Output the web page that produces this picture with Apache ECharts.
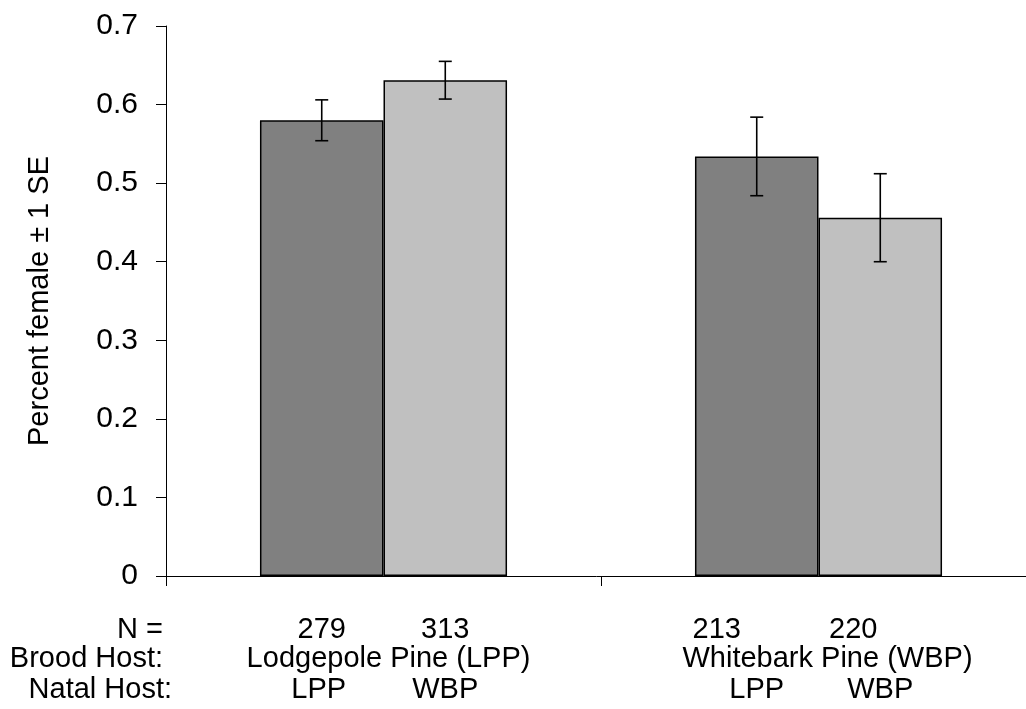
<!DOCTYPE html>
<html><head><meta charset="utf-8">
<script src="https://cdn.jsdelivr.net/npm/echarts@6/dist/echarts.min.js"></script>
<style>html,body{margin:0;padding:0;background:#fff}#c{width:1026px;height:709px}</style>
</head><body><div id="c"></div>
<script>
// ---- data ----
const broodHosts = ['Lodgepole Pine (LPP)', 'Whitebark Pine (WBP)'];
const natalHosts = ['LPP', 'WBP'];
const pctLPP = [0.580, 0.534];
const pctWBP = [0.631, 0.456];
const seLPP = [0.026, 0.050];
const seWBP = [0.024, 0.056];
const nLPP = [279, 213];
const nWBP = [313, 220];

// ---- style ----
const FONT = '"Liberation Sans", Arial, sans-serif';
const GAP = 0.432;
const colLPP = '#808080', colWBP = '#C0C0C0';

function errRender(sign) {
  return function (params, api) {
    const ci = api.value(0), v = api.value(1), se = api.value(2);
    const c = api.coord([ci, v]);
    const band = api.size([1, 0])[0];
    const bw = band * (1 - GAP) / 2;
    const x = c[0] + sign * bw / 2;
    const yt = api.coord([ci, v + se])[1], yb = api.coord([ci, v - se])[1];
    const cap = 6.5;
    const st = { stroke: '#000', lineWidth: 1.6 };
    return { type: 'group', children: [
      { type: 'line', shape: { x1: x, y1: yt, x2: x, y2: yb }, style: st },
      { type: 'line', shape: { x1: x - cap, y1: yt, x2: x + cap, y2: yt }, style: st },
      { type: 'line', shape: { x1: x - cap, y1: yb, x2: x + cap, y2: yb }, style: st }
    ]};
  };
}

const chart = echarts.init(document.getElementById('c'));
const option = {
  animation: false,
  backgroundColor: '#fff',
  textStyle: { fontFamily: FONT },
  grid: { left: 166, width: 870, top: 26, bottom: 133, containLabel: false, outerBoundsMode: 'none' },
  xAxis: {
    type: 'category', data: broodHosts,
    axisLine: { lineStyle: { color: '#000', width: 1 } },
    axisTick: { show: true, length: 10, interval: 0, lineStyle: { color: '#000' } },
    axisLabel: { show: false },
    splitLine: { show: false }
  },
  yAxis: {
    type: 'value', min: 0, max: 0.7, interval: 0.1,
    name: 'Percent female ± 1 SE', nameLocation: 'middle', nameRotate: 90, nameGap: 112,
    nameTextStyle: { fontSize: 29, color: '#000', fontFamily: FONT },
    axisLine: { show: true, lineStyle: { color: '#000', width: 1 } },
    axisTick: { show: true, length: 10, lineStyle: { color: '#000' } },
    axisLabel: { fontSize: 30, color: '#000', margin: 28, fontFamily: FONT,
      formatter: v => (Math.round(v * 10) / 10).toString() },
    splitLine: { show: false }
  },
  series: [
    { type: 'bar', name: 'LPP', data: pctLPP, barGap: '0%', barCategoryGap: (GAP * 100) + '%',
      itemStyle: { color: colLPP, borderColor: '#000', borderWidth: 1.5 } },
    { type: 'bar', name: 'WBP', data: pctWBP, barGap: '0%', barCategoryGap: (GAP * 100) + '%',
      itemStyle: { color: colWBP, borderColor: '#000', borderWidth: 1.5 } },
    { type: 'custom', z: 5, renderItem: errRender(-1), encode: { x: 0, y: 1 },
      data: pctLPP.map((v, i) => [i, v, seLPP[i]]) },
    { type: 'custom', z: 5, renderItem: errRender(1), encode: { x: 0, y: 1 },
      data: pctWBP.map((v, i) => [i, v, seWBP[i]]) }
  ]
};
chart.setOption(option);

// ---- bottom text rows ----
const y0 = chart.convertToPixel({ yAxisIndex: 0 }, 0);
const rowN = y0 + 54, rowB = y0 + 83, rowT = y0 + 114;
const band = chart.convertToPixel({ xAxisIndex: 0 }, 1) - chart.convertToPixel({ xAxisIndex: 0 }, 0);
const bw = band * (1 - GAP) / 2;
const nNudge = [[0, 0], [-40, -27]];
const bNudge = [5, 9];
const tNudge = [[-3, 0], [0, 0]];
const ts = (t, x, y, align) => ({ type: 'text', x: x, y: y,
  style: { text: t, fontSize: 29, fontFamily: FONT, fill: '#000', align: align || 'center', verticalAlign: 'middle' } });
const g = [ts('N =', 163, rowN, 'right'), ts('Brood Host:', 163, rowB, 'right'), ts('Natal Host:', 172, rowT, 'right')];
broodHosts.forEach((b, i) => {
  const cx = chart.convertToPixel({ xAxisIndex: 0 }, b);
  g.push(ts(String(nLPP[i]), cx - bw / 2 + nNudge[i][0], rowN));
  g.push(ts(String(nWBP[i]), cx + bw / 2 + nNudge[i][1], rowN));
  g.push(ts(b, cx + bNudge[i], rowB));
  g.push(ts(natalHosts[0], cx - bw / 2 + tNudge[i][0], rowT));
  g.push(ts(natalHosts[1], cx + bw / 2 + tNudge[i][1], rowT));
});
chart.setOption({ graphic: g });
</script></body></html>
